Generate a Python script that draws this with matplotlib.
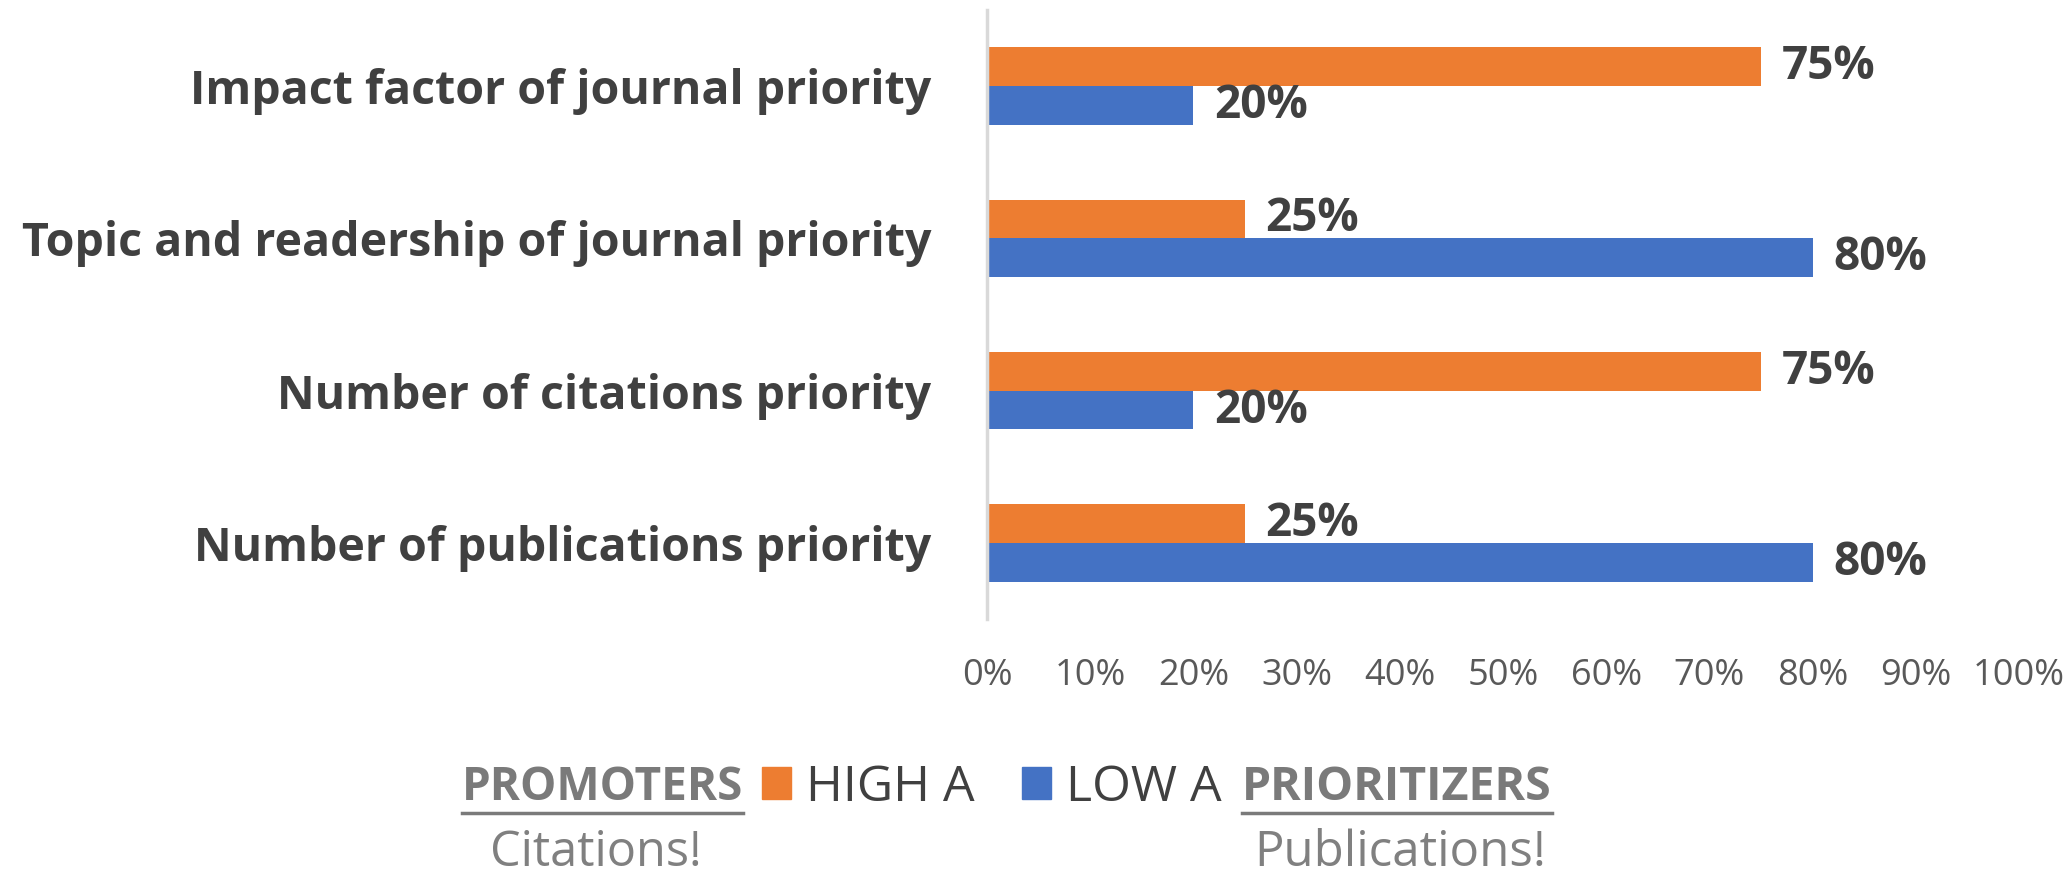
import matplotlib
matplotlib.use("Agg")
import matplotlib.pyplot as plt
from matplotlib.lines import Line2D
from matplotlib.patches import Patch
import numpy as np

plt.rcParams['font.family'] = ['Open Sans', 'DejaVu Sans']

# data (bottom to top)
categories = ["Number of publications priority",
              "Number of citations priority",
              "Topic and readership of journal priority",
              "Impact factor of journal priority"]
high_a = [0.25, 0.75, 0.25, 0.75]
low_a = [0.80, 0.20, 0.80, 0.20]
series_names = ["HIGH A", "LOW A"]
xticks = np.arange(0, 1.01, 0.1)

ORANGE = "#ED7D31"
BLUE = "#4472C4"
DARK = "#404040"
GREY = "#595959"

fig = plt.figure(figsize=(20.64, 8.75), dpi=100)
ax = fig.add_axes([987/2064, 1-619/875, (2019-987)/2064, (619-10)/875])

y = np.arange(len(categories))
h = 0.255
ax.barh(y + h/2, high_a, height=h, color=ORANGE, label=series_names[0])
ax.barh(y - h/2, low_a, height=h, color=BLUE, label=series_names[1])

for yi, v in zip(y, high_a):
    ax.text(v + 0.02, yi + h/2, f"{v:.0%}", va="center", ha="left",
            fontsize=33, fontweight="bold", color=DARK)
for yi, v in zip(y, low_a):
    ax.text(v + 0.02, yi - h/2, f"{v:.0%}", va="center", ha="left",
            fontsize=33, fontweight="bold", color=DARK)

ax.set_xlim(0, 1)
ax.set_ylim(-0.5, len(categories) - 0.5)
ax.set_xticks(xticks)
ax.set_xticklabels([f"{t:.0%}" for t in xticks], fontsize=26, color=GREY)
ax.set_yticks(y)
ax.set_yticklabels(categories, fontsize=33.5, fontweight="bold", color=DARK)
ax.tick_params(axis="x", length=0, pad=28)
ax.tick_params(axis="y", length=0, pad=40)
for s in ["top", "right", "bottom"]:
    ax.spines[s].set_visible(False)
ax.spines["left"].set_color("#D9D9D9")
ax.spines["left"].set_linewidth(2.5)

# legend
handles = [Patch(color=ORANGE), Patch(color=BLUE)]
fig.legend(handles, series_names, loc="center", ncol=2,
           bbox_to_anchor=(992/2064, 1-788/875), frameon=False,
           fontsize=36, labelcolor=DARK, handlelength=0.58, handleheight=0.6,
           handletextpad=0.3, columnspacing=0.95, borderpad=0, borderaxespad=0)

t1 = fig.text(743/2064, 1-788/875, "PROMOTERS", ha="right", va="center",
              fontsize=33, fontweight="bold", color="#7A7A7A")
t2 = fig.text(1242/2064, 1-788/875, "PRIORITIZERS", ha="left", va="center",
              fontsize=33.5, fontweight="bold", color="#7A7A7A")
fig.text(596/2064, 1-853/875, "Citations!", ha="center", va="center",
         fontsize=35, color="#808080")
fig.text(1400/2064, 1-853/875, "Publications!", ha="center", va="center",
         fontsize=35.5, color="#808080")

# underline the two group names
r = fig.canvas.get_renderer()
for t in [t1, t2]:
    bb = t.get_window_extent(renderer=r).transformed(fig.transFigure.inverted())
    fig.add_artist(Line2D([bb.x0, bb.x1], [1-813/875, 1-813/875],
                          transform=fig.transFigure, color="#7A7A7A", lw=2.5))

fig.savefig("out.png", dpi=100)
